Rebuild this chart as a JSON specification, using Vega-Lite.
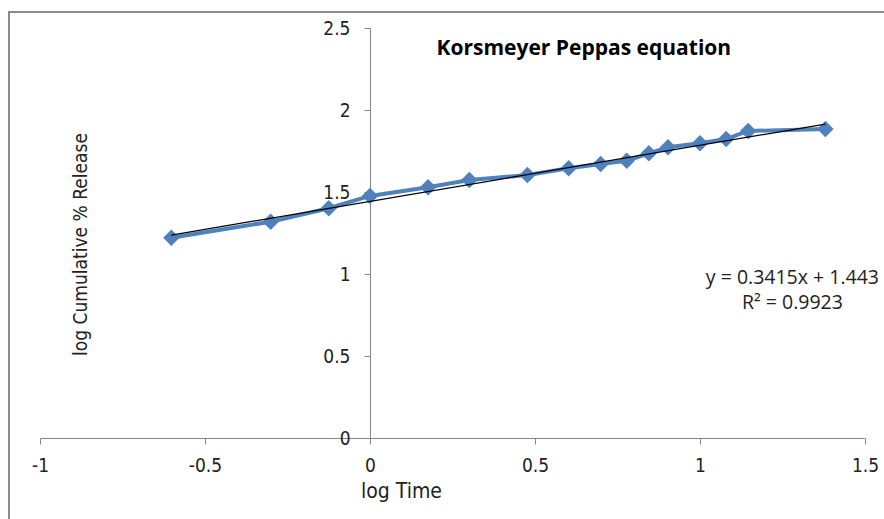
{
  "$schema": "https://vega.github.io/schema/vega-lite/v6.json",
  "width": 825,
  "height": 410,
  "autosize": {"type": "none"},
  "padding": {"left": 40, "top": 28, "right": 19, "bottom": 81},
  "background": "white",
  "config": {"view": {"stroke": null}},
  "datasets": {
    "release": [
      {"logTime": -0.602, "logRelease": 1.221},
      {"logTime": -0.301, "logRelease": 1.319},
      {"logTime": -0.125, "logRelease": 1.401},
      {"logTime": 0.0, "logRelease": 1.476},
      {"logTime": 0.176, "logRelease": 1.529},
      {"logTime": 0.301, "logRelease": 1.573},
      {"logTime": 0.477, "logRelease": 1.604},
      {"logTime": 0.602, "logRelease": 1.645},
      {"logTime": 0.699, "logRelease": 1.671},
      {"logTime": 0.778, "logRelease": 1.691},
      {"logTime": 0.845, "logRelease": 1.736},
      {"logTime": 0.903, "logRelease": 1.773},
      {"logTime": 1.0, "logRelease": 1.797},
      {"logTime": 1.079, "logRelease": 1.823},
      {"logTime": 1.146, "logRelease": 1.872},
      {"logTime": 1.38, "logRelease": 1.884}
    ],
    "trend": [
      {"logTime": -0.602, "logRelease": 1.2374},
      {"logTime": 1.38, "logRelease": 1.9143}
    ],
    "frame": [
      {"x0": -1.094, "x1": 1.7, "y0": 2.598, "y1": -0.8}
    ]
  },
  "layer": [
    {
      "data": {"name": "frame"},
      "mark": {"type": "rect", "filled": false, "fill": null, "stroke": "#8a8a8a", "strokeWidth": 2, "clip": false},
      "encoding": {
        "x": {
          "field": "x0",
          "type": "quantitative",
          "scale": {"domain": [-1, 1.5], "nice": false, "zero": false},
          "axis": {
            "title": "log Time",
            "values": [-1, -0.5, 0, 0.5, 1, 1.5],
            "labelExpr": "toString(datum.value)",
            "grid": false,
            "domainColor": "#868686",
            "tickColor": "#868686",
            "tickSize": 6,
            "labelFlush": false,
            "labelPadding": 12,
            "labelFont": "DejaVu Sans Condensed, sans-serif",
            "labelFontSize": 19,
            "labelColor": "#222222",
            "titleFont": "DejaVu Sans Condensed, sans-serif",
            "titleFontSize": 21,
            "titleFontWeight": "normal",
            "titleColor": "#222222",
            "titleX": 361,
            "titleY": 53,
            "titleAlign": "center",
            "titleBaseline": "middle"
          }
        },
        "x2": {"field": "x1"},
        "y": {
          "field": "y0",
          "type": "quantitative",
          "scale": {"domain": [0, 2.5], "nice": false, "zero": false},
          "axis": {
            "title": "log Cumulative % Release",
            "values": [0, 0.5, 1, 1.5, 2, 2.5],
            "labelExpr": "toString(datum.value)",
            "offset": -330,
            "grid": false,
            "domainColor": "#868686",
            "tickColor": "#868686",
            "tickSize": 6,
            "labelFlush": false,
            "labelPadding": 14,
            "labelFont": "DejaVu Sans Condensed, sans-serif",
            "labelFontSize": 19,
            "labelColor": "#222222",
            "titleFont": "DejaVu Sans Condensed, sans-serif",
            "titleFontSize": 19,
            "titleFontWeight": "normal",
            "titleColor": "#222222",
            "titleAngle": -90,
            "titleX": -290,
            "titleY": 216,
            "titleAlign": "center",
            "titleBaseline": "middle"
          }
        },
        "y2": {"field": "y1"}
      }
    },
    {
      "data": {"name": "release"},
      "mark": {"type": "line", "color": "#4F81BD", "strokeWidth": 4},
      "encoding": {
        "x": {"field": "logTime", "type": "quantitative"},
        "y": {"field": "logRelease", "type": "quantitative"}
      }
    },
    {
      "data": {"name": "release"},
      "mark": {"type": "point", "shape": "diamond", "filled": true, "size": 270, "color": "#4F81BD", "opacity": 1},
      "encoding": {
        "x": {"field": "logTime", "type": "quantitative"},
        "y": {"field": "logRelease", "type": "quantitative"}
      }
    },
    {
      "data": {"name": "trend"},
      "mark": {"type": "line", "color": "#000000", "strokeWidth": 1.2},
      "encoding": {
        "x": {"field": "logTime", "type": "quantitative"},
        "y": {"field": "logRelease", "type": "quantitative"}
      }
    },
    {
      "data": {"name": "frame"},
      "mark": {
        "type": "text",
        "text": "Korsmeyer Peppas equation",
        "font": "Open Sans",
        "fontWeight": "bold",
        "fontSize": 21,
        "color": "#000000",
        "align": "center",
        "baseline": "middle"
      },
      "encoding": {"x": {"datum": 0.648}, "y": {"datum": 2.372}}
    },
    {
      "data": {"name": "frame"},
      "mark": {
        "type": "text",
        "text": "y = 0.3415x + 1.443",
        "font": "Open Sans",
        "fontSize": 19.5,
        "color": "#222222",
        "align": "center",
        "baseline": "middle",
        "clip": false
      },
      "encoding": {"x": {"datum": 1.28}, "y": {"datum": 0.975}}
    },
    {
      "data": {"name": "frame"},
      "mark": {
        "type": "text",
        "text": "R² = 0.9923",
        "font": "Open Sans",
        "fontSize": 19.5,
        "color": "#222222",
        "align": "center",
        "baseline": "middle",
        "clip": false
      },
      "encoding": {"x": {"datum": 1.28}, "y": {"datum": 0.825}}
    }
  ]
}
